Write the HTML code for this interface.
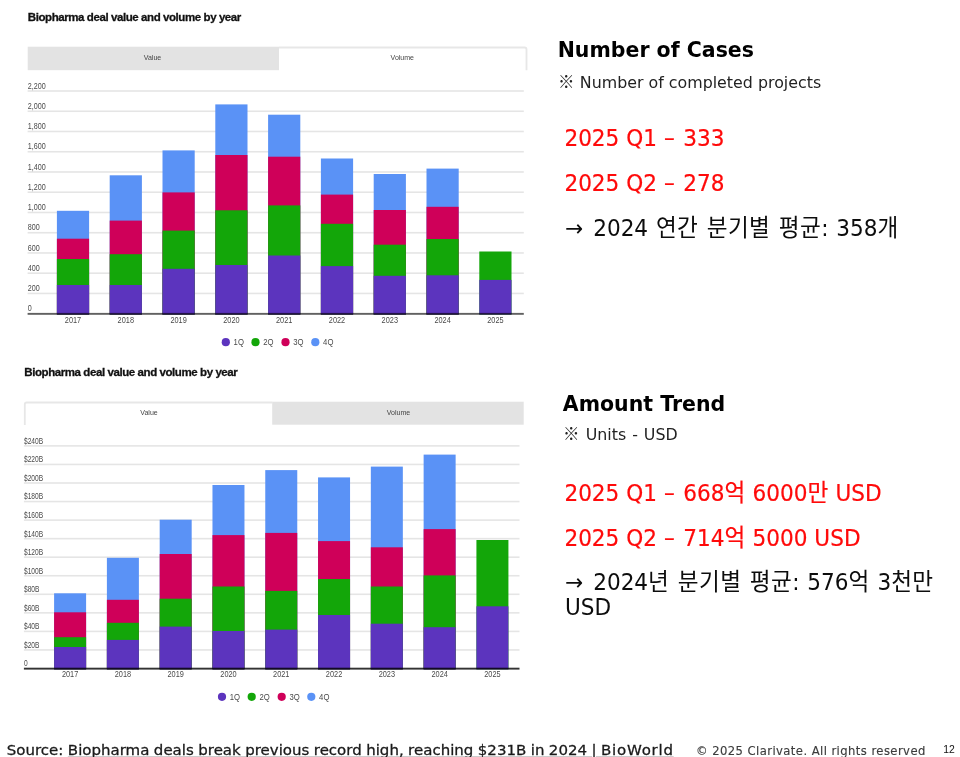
<!DOCTYPE html>
<html lang="ko">
<head>
<meta charset="utf-8">
<title>Biopharma deal value and volume by year</title>
<style>
html,body{margin:0;padding:0;background:#fff;overflow:hidden;}
body{width:960px;height:757px;overflow:hidden;position:relative;font-family:"DejaVu Sans","Noto Sans CJK KR",sans-serif;color:#111;}
#slide{position:absolute;left:0;top:0;width:960px;height:757px;overflow:hidden;background:#fff;}
svg{position:absolute;left:0;top:0;filter:blur(0.45px);}
.ctitle{filter:blur(0.4px);}
svg text.ax{font-family:"Liberation Sans",sans-serif;font-size:9.2px;fill:#4a4a4a;}
svg text.tab{font-family:"Liberation Sans",sans-serif;font-size:8px;fill:#444;}
.t{position:absolute;white-space:nowrap;margin:0;}
.ctitle{font-family:"Liberation Sans",sans-serif;font-weight:bold;font-size:11.5px;letter-spacing:-0.42px;line-height:14px;color:#111;-webkit-text-stroke:0.3px #111;}
.h{font-family:"DejaVu Sans","Noto Sans CJK KR",sans-serif;font-weight:bold;font-size:20.5px;line-height:26px;color:#000;}
.sub{font-family:"DejaVu Sans","Noto Sans CJK KR",sans-serif;font-size:15.85px;line-height:22px;color:#222;}
.r{font-family:"DejaVu Sans","Noto Sans CJK KR",sans-serif;font-size:21.6px;line-height:28px;color:#ff0a0a;-webkit-text-stroke:0.2px #ff0a0a;}
.k{font-family:"DejaVu Sans","Noto Sans CJK KR",sans-serif;font-size:21.6px;line-height:24px;color:#0d0d0d;}
.r{word-spacing:0px;}
.r,.k{transform:scaleY(1.05);transform-origin:0 0;}
.sub{transform:scaleY(1.03);transform-origin:0 0;}
.h{transform:scaleY(1.01);transform-origin:0 0;}
.dash{margin:0 1.5px 0 0.3px;}
.k{word-spacing:0.9px;}
.ko{font-size:22.6px;letter-spacing:0.4px;line-height:1px;}
.ar{margin-right:2.3px;}
.ref{font-family:"Noto Sans CJK KR","DejaVu Sans",sans-serif;font-size:16.5px;line-height:1px;margin-right:0.3px;}
.src{font-family:"DejaVu Sans",sans-serif;font-size:15px;line-height:20px;color:#1a1a1a;-webkit-text-stroke:0.3px #1a1a1a;transform:scaleY(0.9);transform-origin:0 0;word-spacing:-0.3px;}
.src a{color:inherit;text-decoration:underline;text-decoration-thickness:1px;text-underline-offset:1.8px;text-decoration-color:#b8b8b8;}
.copy{font-family:"DejaVu Sans",sans-serif;font-size:11.6px;letter-spacing:0.43px;line-height:16px;color:#3c3c3c;-webkit-text-stroke:0.15px #3c3c3c;}
.pg{font-family:"Liberation Sans",sans-serif;font-size:10.4px;line-height:12px;color:#111;}
</style>
</head>
<body>
<div id="slide">
<svg width="960" height="757" viewBox="0 0 960 757">
<!-- top chart tabs -->
<rect x="27.7" y="46.7" width="251.3" height="23.5" fill="#e3e3e3"/>
<path d="M279 47.5 H524.6 Q526.5 47.5 526.5 49.4 V70.2" fill="none" stroke="#e7e7e7" stroke-width="1.8"/>
<text transform="translate(152.5 60.2) scale(0.88 1)" class="tab" text-anchor="middle">Value</text>
<text transform="translate(402.3 60.2) scale(0.88 1)" class="tab" text-anchor="middle">Volume</text>
<rect x="27.6" y="90.20" width="496.20" height="1.6" fill="#e5e5e5"/>
<rect x="27.6" y="110.45" width="496.20" height="1.6" fill="#e5e5e5"/>
<rect x="27.6" y="130.69" width="496.20" height="1.6" fill="#e5e5e5"/>
<rect x="27.6" y="150.94" width="496.20" height="1.6" fill="#e5e5e5"/>
<rect x="27.6" y="171.18" width="496.20" height="1.6" fill="#e5e5e5"/>
<rect x="27.6" y="191.43" width="496.20" height="1.6" fill="#e5e5e5"/>
<rect x="27.6" y="211.67" width="496.20" height="1.6" fill="#e5e5e5"/>
<rect x="27.6" y="231.92" width="496.20" height="1.6" fill="#e5e5e5"/>
<rect x="27.6" y="252.16" width="496.20" height="1.6" fill="#e5e5e5"/>
<rect x="27.6" y="272.41" width="496.20" height="1.6" fill="#e5e5e5"/>
<rect x="27.6" y="292.65" width="496.20" height="1.6" fill="#e5e5e5"/>
<text transform="translate(27.7 88.65) scale(0.78 1)" class="ax">2,200</text>
<text transform="translate(27.7 108.90) scale(0.78 1)" class="ax">2,000</text>
<text transform="translate(27.7 129.14) scale(0.78 1)" class="ax">1,800</text>
<text transform="translate(27.7 149.39) scale(0.78 1)" class="ax">1,600</text>
<text transform="translate(27.7 169.63) scale(0.78 1)" class="ax">1,400</text>
<text transform="translate(27.7 189.88) scale(0.78 1)" class="ax">1,200</text>
<text transform="translate(27.7 210.12) scale(0.78 1)" class="ax">1,000</text>
<text transform="translate(27.7 230.37) scale(0.78 1)" class="ax">800</text>
<text transform="translate(27.7 250.61) scale(0.78 1)" class="ax">600</text>
<text transform="translate(27.7 270.86) scale(0.78 1)" class="ax">400</text>
<text transform="translate(27.7 291.10) scale(0.78 1)" class="ax">200</text>
<text transform="translate(27.7 311.35) scale(0.78 1)" class="ax">0</text>
<rect x="56.90" y="210.80" width="32.2" height="103.70" fill="#5a92f6"/>
<rect x="56.90" y="238.70" width="32.2" height="75.80" fill="#cf0059"/>
<rect x="56.90" y="259.00" width="32.2" height="55.50" fill="#13a609"/>
<rect x="56.90" y="285.00" width="32.2" height="29.50" fill="#5c34be"/>
<rect x="109.70" y="175.30" width="32.2" height="139.20" fill="#5a92f6"/>
<rect x="109.70" y="220.60" width="32.2" height="93.90" fill="#cf0059"/>
<rect x="109.70" y="254.20" width="32.2" height="60.30" fill="#13a609"/>
<rect x="109.70" y="285.00" width="32.2" height="29.50" fill="#5c34be"/>
<rect x="162.50" y="150.40" width="32.2" height="164.10" fill="#5a92f6"/>
<rect x="162.50" y="192.40" width="32.2" height="122.10" fill="#cf0059"/>
<rect x="162.50" y="230.60" width="32.2" height="83.90" fill="#13a609"/>
<rect x="162.50" y="268.80" width="32.2" height="45.70" fill="#5c34be"/>
<rect x="215.30" y="104.40" width="32.2" height="210.10" fill="#5a92f6"/>
<rect x="215.30" y="155.00" width="32.2" height="159.50" fill="#cf0059"/>
<rect x="215.30" y="210.30" width="32.2" height="104.20" fill="#13a609"/>
<rect x="215.30" y="265.00" width="32.2" height="49.50" fill="#5c34be"/>
<rect x="268.10" y="114.70" width="32.2" height="199.80" fill="#5a92f6"/>
<rect x="268.10" y="156.70" width="32.2" height="157.80" fill="#cf0059"/>
<rect x="268.10" y="205.40" width="32.2" height="109.10" fill="#13a609"/>
<rect x="268.10" y="255.50" width="32.2" height="59.00" fill="#5c34be"/>
<rect x="320.90" y="158.50" width="32.2" height="156.00" fill="#5a92f6"/>
<rect x="320.90" y="194.60" width="32.2" height="119.90" fill="#cf0059"/>
<rect x="320.90" y="223.80" width="32.2" height="90.70" fill="#13a609"/>
<rect x="320.90" y="266.10" width="32.2" height="48.40" fill="#5c34be"/>
<rect x="373.70" y="174.00" width="32.2" height="140.50" fill="#5a92f6"/>
<rect x="373.70" y="210.00" width="32.2" height="104.50" fill="#cf0059"/>
<rect x="373.70" y="244.70" width="32.2" height="69.80" fill="#13a609"/>
<rect x="373.70" y="275.80" width="32.2" height="38.70" fill="#5c34be"/>
<rect x="426.50" y="168.60" width="32.2" height="145.90" fill="#5a92f6"/>
<rect x="426.50" y="206.80" width="32.2" height="107.70" fill="#cf0059"/>
<rect x="426.50" y="239.00" width="32.2" height="75.50" fill="#13a609"/>
<rect x="426.50" y="275.30" width="32.2" height="39.20" fill="#5c34be"/>
<rect x="479.30" y="251.50" width="32.2" height="63.00" fill="#13a609"/>
<rect x="479.30" y="279.90" width="32.2" height="34.60" fill="#5c34be"/>
<rect x="27.6" y="312.90" width="496.20" height="1.9" fill="#000" fill-opacity="0.62"/>
<text transform="translate(73.00 323.10) scale(0.8 1)" class="ax" text-anchor="middle">2017</text>
<text transform="translate(125.80 323.10) scale(0.8 1)" class="ax" text-anchor="middle">2018</text>
<text transform="translate(178.60 323.10) scale(0.8 1)" class="ax" text-anchor="middle">2019</text>
<text transform="translate(231.40 323.10) scale(0.8 1)" class="ax" text-anchor="middle">2020</text>
<text transform="translate(284.20 323.10) scale(0.8 1)" class="ax" text-anchor="middle">2021</text>
<text transform="translate(337.00 323.10) scale(0.8 1)" class="ax" text-anchor="middle">2022</text>
<text transform="translate(389.80 323.10) scale(0.8 1)" class="ax" text-anchor="middle">2023</text>
<text transform="translate(442.60 323.10) scale(0.8 1)" class="ax" text-anchor="middle">2024</text>
<text transform="translate(495.40 323.10) scale(0.8 1)" class="ax" text-anchor="middle">2025</text>
<circle cx="225.80" cy="342.20" r="4.1" fill="#5c34be"/>
<text transform="translate(233.60 345.40) scale(0.84 1)" class="ax">1Q</text>
<circle cx="255.50" cy="342.20" r="4.1" fill="#13a609"/>
<text transform="translate(263.30 345.40) scale(0.84 1)" class="ax">2Q</text>
<circle cx="285.50" cy="342.20" r="4.1" fill="#cf0059"/>
<text transform="translate(293.30 345.40) scale(0.84 1)" class="ax">3Q</text>
<circle cx="315.30" cy="342.20" r="4.1" fill="#5a92f6"/>
<text transform="translate(323.10 345.40) scale(0.84 1)" class="ax">4Q</text>
<!-- bottom chart tabs -->
<path d="M24.8 424.9 V404.4 Q24.8 402.5 26.7 402.5 H272.2" fill="none" stroke="#e7e7e7" stroke-width="1.8"/>
<rect x="272.2" y="401.7" width="251.5" height="23" fill="#e3e3e3"/>
<text transform="translate(149 415.2) scale(0.88 1)" class="tab" text-anchor="middle">Value</text>
<text transform="translate(398.5 415.2) scale(0.88 1)" class="tab" text-anchor="middle">Volume</text>
<rect x="23.9" y="445.10" width="495.60" height="1.6" fill="#e5e5e5"/>
<rect x="23.9" y="463.65" width="495.60" height="1.6" fill="#e5e5e5"/>
<rect x="23.9" y="482.20" width="495.60" height="1.6" fill="#e5e5e5"/>
<rect x="23.9" y="500.75" width="495.60" height="1.6" fill="#e5e5e5"/>
<rect x="23.9" y="519.30" width="495.60" height="1.6" fill="#e5e5e5"/>
<rect x="23.9" y="537.85" width="495.60" height="1.6" fill="#e5e5e5"/>
<rect x="23.9" y="556.40" width="495.60" height="1.6" fill="#e5e5e5"/>
<rect x="23.9" y="574.95" width="495.60" height="1.6" fill="#e5e5e5"/>
<rect x="23.9" y="593.50" width="495.60" height="1.6" fill="#e5e5e5"/>
<rect x="23.9" y="612.05" width="495.60" height="1.6" fill="#e5e5e5"/>
<rect x="23.9" y="630.60" width="495.60" height="1.6" fill="#e5e5e5"/>
<rect x="23.9" y="649.15" width="495.60" height="1.6" fill="#e5e5e5"/>
<text transform="translate(24.0 443.75) scale(0.72 1)" class="ax">$240B</text>
<text transform="translate(24.0 462.30) scale(0.72 1)" class="ax">$220B</text>
<text transform="translate(24.0 480.85) scale(0.72 1)" class="ax">$200B</text>
<text transform="translate(24.0 499.40) scale(0.72 1)" class="ax">$180B</text>
<text transform="translate(24.0 517.95) scale(0.72 1)" class="ax">$160B</text>
<text transform="translate(24.0 536.50) scale(0.72 1)" class="ax">$140B</text>
<text transform="translate(24.0 555.05) scale(0.72 1)" class="ax">$120B</text>
<text transform="translate(24.0 573.60) scale(0.72 1)" class="ax">$100B</text>
<text transform="translate(24.0 592.15) scale(0.72 1)" class="ax">$80B</text>
<text transform="translate(24.0 610.70) scale(0.72 1)" class="ax">$60B</text>
<text transform="translate(24.0 629.25) scale(0.72 1)" class="ax">$40B</text>
<text transform="translate(24.0 647.80) scale(0.72 1)" class="ax">$20B</text>
<text transform="translate(24.0 666.35) scale(0.72 1)" class="ax">0</text>
<rect x="54.10" y="593.30" width="32.0" height="76.00" fill="#5a92f6"/>
<rect x="54.10" y="612.30" width="32.0" height="57.00" fill="#cf0059"/>
<rect x="54.10" y="637.20" width="32.0" height="32.10" fill="#13a609"/>
<rect x="54.10" y="647.00" width="32.0" height="22.30" fill="#5c34be"/>
<rect x="106.89" y="557.80" width="32.0" height="111.50" fill="#5a92f6"/>
<rect x="106.89" y="599.80" width="32.0" height="69.50" fill="#cf0059"/>
<rect x="106.89" y="622.80" width="32.0" height="46.50" fill="#13a609"/>
<rect x="106.89" y="639.90" width="32.0" height="29.40" fill="#5c34be"/>
<rect x="159.68" y="519.70" width="32.0" height="149.60" fill="#5a92f6"/>
<rect x="159.68" y="554.00" width="32.0" height="115.30" fill="#cf0059"/>
<rect x="159.68" y="598.70" width="32.0" height="70.60" fill="#13a609"/>
<rect x="159.68" y="626.60" width="32.0" height="42.70" fill="#5c34be"/>
<rect x="212.47" y="485.00" width="32.0" height="184.30" fill="#5a92f6"/>
<rect x="212.47" y="535.10" width="32.0" height="134.20" fill="#cf0059"/>
<rect x="212.47" y="586.50" width="32.0" height="82.80" fill="#13a609"/>
<rect x="212.47" y="631.00" width="32.0" height="38.30" fill="#5c34be"/>
<rect x="265.26" y="470.10" width="32.0" height="199.20" fill="#5a92f6"/>
<rect x="265.26" y="532.90" width="32.0" height="136.40" fill="#cf0059"/>
<rect x="265.26" y="590.90" width="32.0" height="78.40" fill="#13a609"/>
<rect x="265.26" y="629.60" width="32.0" height="39.70" fill="#5c34be"/>
<rect x="318.05" y="477.40" width="32.0" height="191.90" fill="#5a92f6"/>
<rect x="318.05" y="541.10" width="32.0" height="128.20" fill="#cf0059"/>
<rect x="318.05" y="579.00" width="32.0" height="90.30" fill="#13a609"/>
<rect x="318.05" y="615.00" width="32.0" height="54.30" fill="#5c34be"/>
<rect x="370.84" y="466.60" width="32.0" height="202.70" fill="#5a92f6"/>
<rect x="370.84" y="547.30" width="32.0" height="122.00" fill="#cf0059"/>
<rect x="370.84" y="586.50" width="32.0" height="82.80" fill="#13a609"/>
<rect x="370.84" y="623.70" width="32.0" height="45.60" fill="#5c34be"/>
<rect x="423.63" y="454.60" width="32.0" height="214.70" fill="#5a92f6"/>
<rect x="423.63" y="529.10" width="32.0" height="140.20" fill="#cf0059"/>
<rect x="423.63" y="575.40" width="32.0" height="93.90" fill="#13a609"/>
<rect x="423.63" y="627.20" width="32.0" height="42.10" fill="#5c34be"/>
<rect x="476.42" y="540.00" width="32.0" height="129.30" fill="#13a609"/>
<rect x="476.42" y="606.30" width="32.0" height="63.00" fill="#5c34be"/>
<rect x="23.9" y="667.70" width="495.60" height="1.9" fill="#000" fill-opacity="0.8"/>
<text transform="translate(70.10 677.20) scale(0.8 1)" class="ax" text-anchor="middle">2017</text>
<text transform="translate(122.89 677.20) scale(0.8 1)" class="ax" text-anchor="middle">2018</text>
<text transform="translate(175.68 677.20) scale(0.8 1)" class="ax" text-anchor="middle">2019</text>
<text transform="translate(228.47 677.20) scale(0.8 1)" class="ax" text-anchor="middle">2020</text>
<text transform="translate(281.26 677.20) scale(0.8 1)" class="ax" text-anchor="middle">2021</text>
<text transform="translate(334.05 677.20) scale(0.8 1)" class="ax" text-anchor="middle">2022</text>
<text transform="translate(386.84 677.20) scale(0.8 1)" class="ax" text-anchor="middle">2023</text>
<text transform="translate(439.63 677.20) scale(0.8 1)" class="ax" text-anchor="middle">2024</text>
<text transform="translate(492.42 677.20) scale(0.8 1)" class="ax" text-anchor="middle">2025</text>
<circle cx="222.00" cy="696.80" r="4.1" fill="#5c34be"/>
<text transform="translate(229.80 700.00) scale(0.84 1)" class="ax">1Q</text>
<circle cx="251.70" cy="696.80" r="4.1" fill="#13a609"/>
<text transform="translate(259.50 700.00) scale(0.84 1)" class="ax">2Q</text>
<circle cx="281.70" cy="696.80" r="4.1" fill="#cf0059"/>
<text transform="translate(289.50 700.00) scale(0.84 1)" class="ax">3Q</text>
<circle cx="311.30" cy="696.80" r="4.1" fill="#5a92f6"/>
<text transform="translate(319.10 700.00) scale(0.84 1)" class="ax">4Q</text>
</svg>

<h2 class="t ctitle" style="left:27.8px;top:9.6px;">Biopharma deal value and volume by year</h2>
<h2 class="t ctitle" style="left:24.3px;top:365.4px;">Biopharma deal value and volume by year</h2>

<h1 class="t h" style="left:557.7px;top:37px;">Number of Cases</h1>
<p class="t sub" style="left:558px;top:72.3px;"><span class="ref">※</span> Number of completed projects</p>
<p class="t r" style="left:564.4px;top:124.3px;">2025 Q1 <span class="dash">–</span> 333</p>
<p class="t r" style="left:564.4px;top:169.3px;">2025 Q2 <span class="dash">–</span> 278</p>
<p class="t k" style="left:565px;top:216px;"><span class="ar">→</span> 2024 <span class="ko">연간 분기별 평균</span>: 358<span class="ko">개</span></p>

<h1 class="t h" style="left:562.8px;top:391.4px;">Amount Trend</h1>
<p class="t sub" style="left:563px;top:424.2px;word-spacing:0.9px;"><span class="ref">※</span> Units - USD</p>
<p class="t r" style="left:564.4px;top:479.3px;">2025 Q1 <span class="dash">–</span> 668<span class="ko">억</span> 6000<span class="ko">만</span> USD</p>
<p class="t r" style="left:564.4px;top:524.3px;">2025 Q2 <span class="dash">–</span> 714<span class="ko">억</span> 5000 USD</p>
<p class="t k" style="left:565px;top:569.5px;"><span class="ar">→</span> 2024<span class="ko">년 분기별 평균</span>: 576<span class="ko">억</span> 3<span class="ko">천만</span><br>USD</p>

<p class="t src" style="left:6.8px;top:740.5px;">Source: <a>Biopharma deals break previous record high, reaching $231B in 2024 | <span style="letter-spacing:0.75px">BioWorld</span></a></p>
<p class="t copy" style="left:696px;top:743px;">© 2025 Clarivate. All rights reserved</p>
<p class="t pg" style="left:943.3px;top:743.7px;">12</p>
</div>
</body>
</html>
